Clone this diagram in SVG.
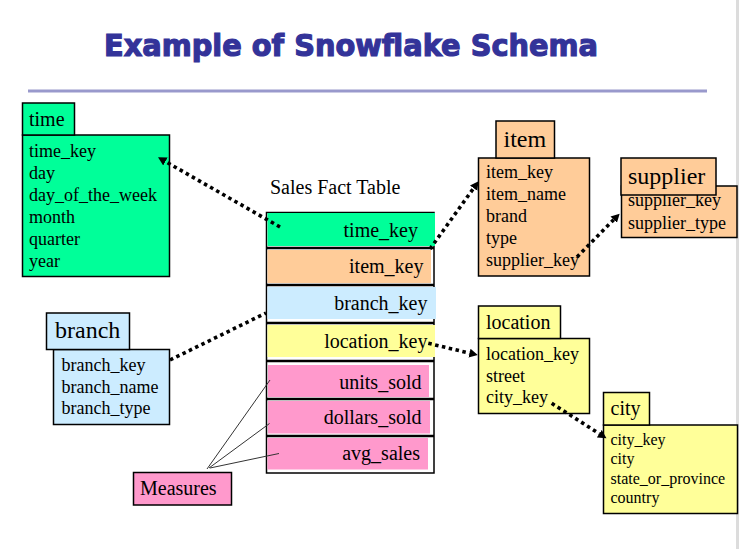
<svg xmlns="http://www.w3.org/2000/svg" width="741" height="549" viewBox="0 0 741 549">
<style>
  .box { stroke: #000; stroke-width: 1.5; }
  .green { fill: #00FF99; }
  .orange { fill: #FFCC99; }
  .blue { fill: #CCECFF; }
  .yellow { fill: #FFFF99; }
  .pink { fill: #FF99CC; }
  text { font-family: "Liberation Serif", "Times New Roman", serif; fill: #000; }
  .t24 { font-size: 24px; }
  .t20 { font-size: 20px; }
  .t18 { font-size: 18px; }
  .t16 { font-size: 16px; }
  .fk { font-size: 20px; text-anchor: end; }
  .dot { fill: none; stroke: #000; stroke-width: 3.6; stroke-dasharray: 3.5 3.5; }
  .meas { fill: none; stroke: #333; stroke-width: 1; }
  .sep { stroke: #000; stroke-width: 2.5; }
</style>
<defs>
  <marker id="arr" markerUnits="userSpaceOnUse" markerWidth="10" markerHeight="10" viewBox="0 -5 10 10" refX="0" refY="0" orient="auto">
    <path d="M0,-4.5 L8.5,0 L0,4.5 z" fill="#000"/>
  </marker>
</defs>
<rect x="0" y="0" width="741" height="549" fill="#fff"/>
<rect x="736" y="0" width="3" height="549" fill="#dcdcdc"/>

<g id="title">
  <text x="104" y="56" style="font-family:'DejaVu Sans','Liberation Sans',sans-serif;font-weight:bold;font-size:30px;fill:#333399;stroke:#333399;stroke-width:1.2" textLength="494" lengthAdjust="spacingAndGlyphs">Example of Snowflake Schema</text>
  <line x1="28" y1="91" x2="707" y2="91" stroke="#9999CC" stroke-width="3"/>
</g>

<g id="time">
  <rect class="box green" x="22.5" y="135" width="147" height="141.5"/>
  <rect class="box green" x="22.5" y="103" width="52" height="32"/>
  <text class="t20" x="29" y="126">time</text>
  <text class="t18" x="29" y="157">time_key</text>
  <text class="t18" x="29" y="179">day</text>
  <text class="t18" x="29" y="201">day_of_the_week</text>
  <text class="t18" x="29" y="223">month</text>
  <text class="t18" x="29" y="245">quarter</text>
  <text class="t18" x="29" y="267">year</text>
</g>

<g id="branch">
  <rect class="box blue" x="53.5" y="349.5" width="116" height="75"/>
  <rect class="box blue" x="46.5" y="313" width="83" height="36.5"/>
  <text class="t24" x="55" y="338">branch</text>
  <text class="t18" x="61.5" y="371">branch_key</text>
  <text class="t18" x="61.5" y="392.5">branch_name</text>
  <text class="t18" x="61.5" y="413.5">branch_type</text>
</g>

<g id="measures">
  <rect class="box pink" x="133.5" y="472.5" width="98" height="32.5"/>
  <text class="t20" x="140" y="495">Measures</text>
</g>

<g id="fact">
  <text class="t20" x="270" y="194">Sales Fact Table</text>
  <rect class="box" x="266.5" y="212.5" width="167.5" height="260.5" fill="#fff"/>
  <rect class="green" x="267.5" y="213" width="167.5" height="33"/>
  <rect class="orange" x="267.5" y="250" width="163.5" height="33"/>
  <rect class="blue" x="267.5" y="287" width="168.5" height="32"/>
  <rect class="yellow" x="267.5" y="325" width="167.5" height="32"/>
  <rect class="pink" x="268" y="365" width="161" height="32"/>
  <rect class="pink" x="268" y="401" width="162" height="32.5"/>
  <rect class="pink" x="267.5" y="438" width="160.5" height="31.5"/>
  <line class="sep" x1="266.5" y1="248" x2="434" y2="248"/>
  <line class="sep" x1="266.5" y1="285" x2="434" y2="285"/>
  <line class="sep" x1="266.5" y1="323" x2="434" y2="323"/>
  <line class="sep" x1="266.5" y1="361" x2="434" y2="361"/>
  <line class="sep" x1="266.5" y1="399" x2="434" y2="399"/>
  <line class="sep" x1="266.5" y1="436" x2="434" y2="436"/>
  <text class="fk" x="418" y="237">time_key</text>
  <text class="fk" x="423.5" y="273">item_key</text>
  <text class="fk" x="427.5" y="309.5">branch_key</text>
  <text class="fk" x="427.5" y="348">location_key</text>
  <text class="fk" x="421.5" y="388.5">units_sold</text>
  <text class="fk" x="421.5" y="424">dollars_sold</text>
  <text class="fk" x="420" y="460">avg_sales</text>
</g>

<g id="item">
  <rect class="box orange" x="478.5" y="158" width="111" height="118"/>
  <rect class="box orange" x="496" y="121" width="58.5" height="37"/>
  <text class="t24" x="503.5" y="147">item</text>
  <text class="t18" x="486" y="178">item_key</text>
  <text class="t18" x="486" y="200">item_name</text>
  <text class="t18" x="486" y="222">brand</text>
  <text class="t18" x="486" y="244">type</text>
  <text class="t18" x="486" y="266">supplier_key</text>
</g>

<g id="supplier">
  <rect class="box orange" x="621.5" y="186" width="115.5" height="51.5"/>
  <text class="t18" x="628" y="206">supplier_key</text>
  <text class="t18" x="628" y="228.5">supplier_type</text>
  <rect class="box orange" x="621" y="158" width="95" height="37"/>
  <text class="t24" x="628" y="184">supplier</text>
</g>

<g id="location">
  <rect class="box yellow" x="478.5" y="338.5" width="111" height="75"/>
  <rect class="box yellow" x="478.5" y="306" width="82" height="32.5"/>
  <text class="t20" x="486" y="328.5">location</text>
  <text class="t18" x="486" y="360">location_key</text>
  <text class="t18" x="486" y="381.5">street</text>
  <text class="t18" x="486" y="403">city_key</text>
</g>

<g id="city">
  <rect class="box yellow" x="603.5" y="425" width="134" height="88.5"/>
  <rect class="box yellow" x="603.5" y="392.5" width="46" height="32.5"/>
  <text class="t20" x="610.5" y="415">city</text>
  <text class="t16" x="610.5" y="445">city_key</text>
  <text class="t16" x="610.5" y="464">city</text>
  <text class="t16" x="610.5" y="483.5">state_or_province</text>
  <text class="t16" x="610.5" y="502.5">country</text>
</g>

<g id="connectors">
  <path class="dot" d="M280,227 L165.4,161.5" marker-end="url(#arr)"/>
  <path class="dot" d="M430,249 L473.6,188.2" marker-end="url(#arr)"/>
  <path class="dot" d="M577,257 L613.7,219.7" marker-end="url(#arr)"/>
  <path class="dot" d="M428.3,343.3 L469.5,353.1" marker-end="url(#arr)"/>
  <path class="dot" d="M551.7,403.3 L599.3,433.7" marker-end="url(#arr)"/>
  <path class="dot" d="M170,360 L266,313"/>
  <path class="meas" d="M207,469 L270,380"/>
  <path class="meas" d="M209,468 L269.5,423.5"/>
  <path class="meas" d="M210,468 L279,453.5"/>
</g>
</svg>
